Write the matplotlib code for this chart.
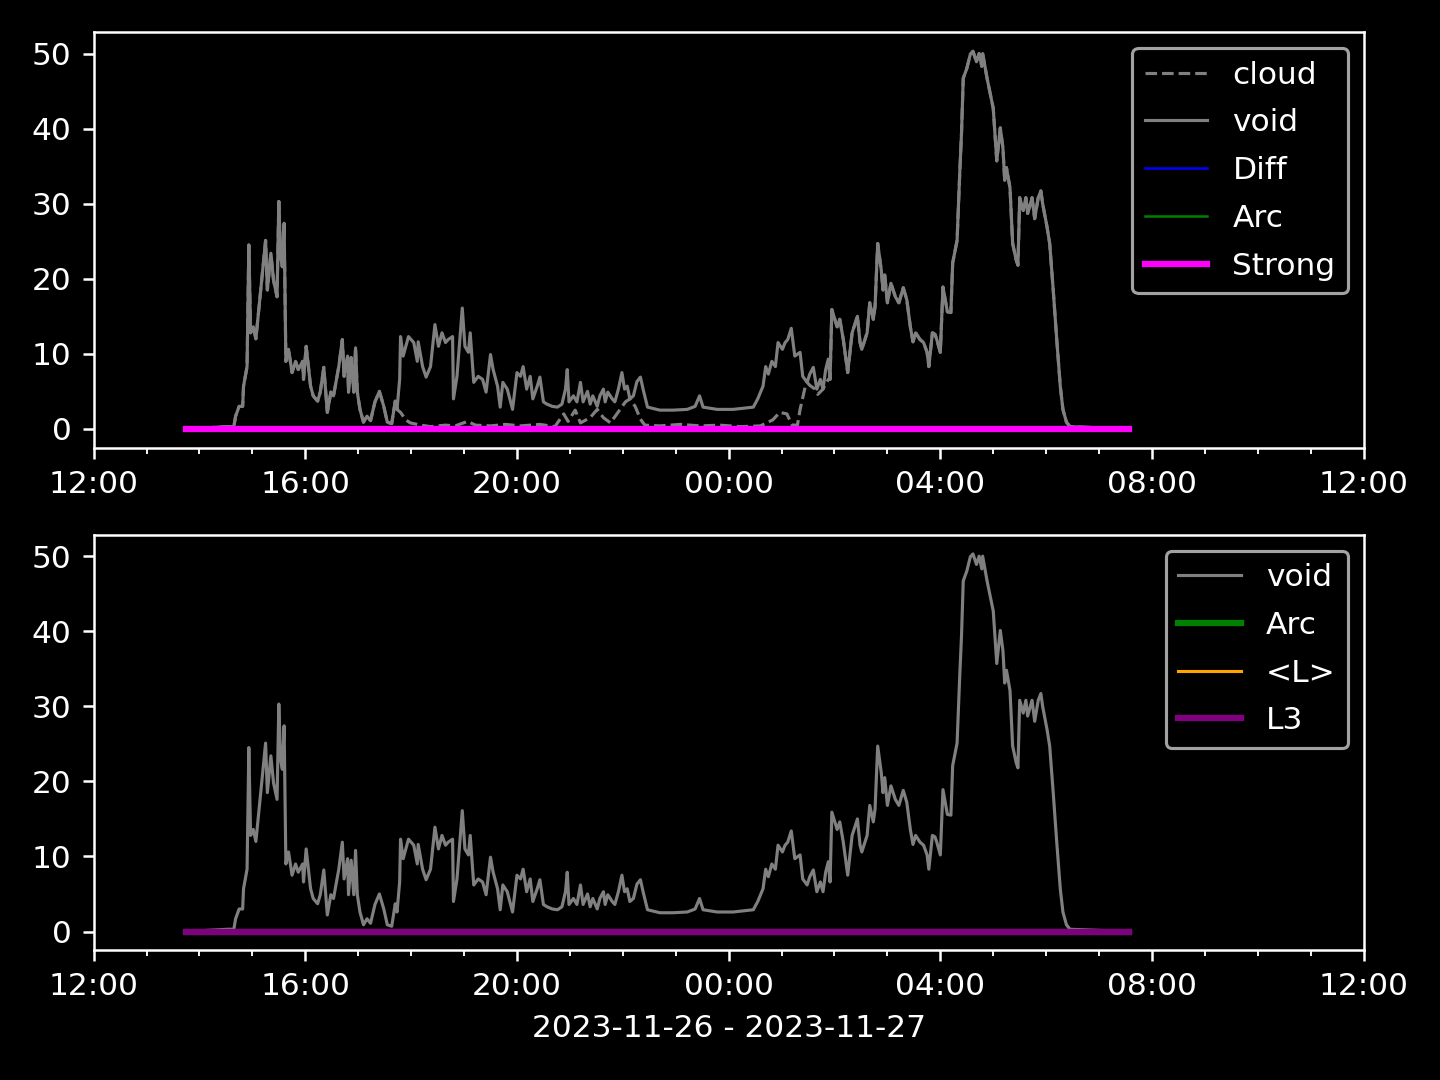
import numpy as np
import pandas as pd
import matplotlib
matplotlib.use("Agg")
import matplotlib.pyplot as plt
import matplotlib.dates as mdates

# minutes after 2023-11-26 12:00
start = pd.Timestamp("2023-11-26 12:00")
void_min = [105, 152, 159, 161, 165, 169, 170, 174, 176, 178, 181, 184, 187, 191, 195,
            197, 201, 204, 208, 210, 212, 214, 216, 218, 221, 225, 229, 232, 237, 238,
            241, 246, 249, 254, 257, 261, 265, 269, 272, 278, 282, 284, 288, 289, 292,
            295, 297, 299, 302, 306, 310, 314, 319, 324, 329, 333, 338, 342, 344, 347,
            348, 351, 357, 363, 367, 368, 373, 377, 382, 387, 391, 395, 399, 402, 407,
            408, 412, 418, 421, 425, 427, 431, 436, 441, 445, 450, 453, 458, 461, 464,
            469, 475, 480, 484, 487, 491, 495, 498, 503, 506, 510, 514, 520, 526, 531,
            535, 537, 539, 544, 548, 552, 555, 560, 563, 566, 571, 574, 578, 580, 583,
            588, 591, 595, 599, 602, 605, 608, 612, 616, 620, 623, 628, 642, 657, 673,
            682, 687, 691, 707, 725, 748, 753, 759, 762, 765, 769, 773, 776, 781, 784,
            787, 791, 795, 801, 804, 809, 812, 816, 820, 824, 827, 830, 833, 835, 837,
            843, 846, 850, 855, 860, 866, 869, 871, 877, 880, 884, 886, 889, 893, 895,
            897, 900, 904, 909, 913, 918, 922, 926, 929, 932, 937, 941, 945, 947, 951,
            954, 956, 960, 963, 968, 972, 974, 979, 982, 984, 986, 990, 994, 997, 1001,
            1004, 1007, 1008, 1013, 1016, 1020, 1024, 1028, 1031, 1033, 1035, 1039, 1042, 1046, 1048,
            1050, 1054, 1057, 1059, 1064, 1067, 1071, 1074, 1076, 1081, 1084, 1088, 1092, 1096, 1099,
            1103, 1107, 1174]
void_val = [0, 0.3, 0.3, 1.7, 3, 3, 5.7, 8.3, 24.5, 12.8, 13.6, 12, 15.5, 20.3, 25.1,
            18.5, 23.4, 19.8, 17.6, 30.3, 22.9, 21.6, 27.4, 9, 10.6, 7.5, 9, 7.9, 9, 6.6,
            11, 5.7, 4.4, 3.7, 4.9, 8.2, 2.2, 4.9, 4.4, 8.3, 11.9, 7, 9.7, 4.9, 9.5,
            4.9, 10.8, 4.9, 2.6, 0.9, 1.7, 1.1, 3.6, 5, 3, 0.9, 0.7, 3.7, 2.6, 6.6,
            12.3, 9.7, 12.3, 11.5, 9, 11.6, 8.3, 6.9, 8.3, 13.9, 11, 12.8, 11.5, 11.9, 12.3,
            4, 7, 16.1, 11, 10.2, 12.8, 6.2, 7, 6.6, 4.9, 9.9, 7.9, 5.7, 2.9, 6.2,
            5.3, 2.6, 7.5, 7, 8.3, 5.3, 7, 4, 5.7, 6.9, 3.6, 3.3, 3, 2.9, 3.3,
            5.3, 7.9, 3.6, 4.4, 3.6, 6.2, 3.6, 5, 3.3, 4.4, 3, 4.4, 5.3, 3.6, 4.9,
            4, 3.6, 5.3, 7.5, 5.3, 5.7, 4, 4.4, 6.3, 6.9, 5.3, 2.9, 2.5, 2.5, 2.6,
            3, 4.4, 2.9, 2.6, 2.6, 2.9, 4, 5.7, 8.3, 7.3, 9, 8.3, 11.5, 10.6, 11.5,
            11.9, 13.4, 9.7, 10.2, 7, 6.2, 7.3, 8.2, 5.3, 6.6, 5.3, 7.9, 9.3, 6.6, 15.9,
            13.6, 14.6, 11.9, 7.5, 12.8, 15, 11.5, 10.6, 12.8, 16.8, 14.6, 16.3, 24.7, 21.2, 18.5,
            20.5, 16.8, 19.4, 17.6, 16.8, 18.8, 17.2, 13.6, 11.6, 12.8, 11.9, 11.5, 10.2, 8.3, 12.8,
            12.6, 11.9, 10.2, 18.9, 15.6, 15.5, 22.1, 25.1, 34, 39.3, 46.7, 48, 49.9, 50.3, 48.9,
            50, 48.3, 50, 46.7, 45, 42.7, 35.7, 40.1, 37.4, 33.1, 34.8, 32.1, 24.7, 22.5, 21.8,
            30.8, 29.1, 30.8, 28.7, 30.8, 28, 30.8, 31.7, 30, 26.9, 24.7, 18.5, 11.9, 5.7, 2.6,
            0.9, 0.3, 0]

# cloud follows void except between ~17:44 and ~01:54
cloud_gap_min = [344, 348, 354, 359, 371, 382, 399, 410, 424, 433, 450, 467, 484, 506, 523,
                 533, 538, 546, 552, 563, 571, 578, 586, 597, 603, 608, 614, 620, 625, 642,
                 665, 688, 710, 733, 756, 770, 778, 786, 792, 798, 801, 807, 809, 812, 818,
                 821, 827, 833]
cloud_gap_val = [2.6, 2.2, 1.2, 0.8, 0.5, 0.3, 0.5, 0.4, 1.0, 0.5, 0.4, 0.6, 0.4, 0.6, 0.3,
                 2.0, 1.0, 2.5, 0.8, 1.5, 2.6, 1.5, 0.8, 2.6, 3.6, 4.0, 3.0, 1.3, 0.5, 0.4,
                 0.6, 0.4, 0.5, 0.3, 0.4, 1.2, 2.2, 2.0, 0.5, 0.5, 2.6, 5.7, 6.2, 5.8, 5.3,
                 4.6, 5.3, 6.6]

vm = np.array(void_min)
vv = np.array(void_val, dtype=float)
before = vm <= 342
after = vm >= 835
cloud_min = np.concatenate([vm[before], cloud_gap_min, vm[after]])
cloud_val = np.concatenate([vv[before], cloud_gap_val, vv[after]])

zero_val = np.zeros(len(void_min))  # Diff, Arc, Strong, <L>, L3 all read as 0

t_void = start + pd.to_timedelta(vm, unit="min")
t_cloud = start + pd.to_timedelta(cloud_min, unit="min")

plt.style.use("dark_background")
fig, (ax1, ax2) = plt.subplots(2, 1, figsize=(6.4, 4.8), dpi=225)
fig.subplots_adjust(left=0.065, right=0.947, top=0.970, bottom=0.120, hspace=0.21)

ax1.plot(t_cloud, cloud_val, color="gray", ls="--", lw=1, label="cloud")
ax1.plot(t_void, vv, color="gray", lw=1, label="void")
ax1.plot(t_void, zero_val, color="blue", lw=0.8, label="Diff")
ax1.plot(t_void, zero_val, color="green", lw=0.8, label="Arc")
ax1.plot(t_void, zero_val, color="magenta", lw=2, label="Strong")
ax1.legend(loc="upper right", labelspacing=0.6)

ax2.plot(t_void, vv, color="gray", lw=1, label="void")
ax2.plot(t_void, zero_val, color="green", lw=2, label="Arc")
ax2.plot(t_void, zero_val, color="orange", lw=1, label="<L>")
ax2.plot(t_void, zero_val, color="purple", lw=2, label="L3")
ax2.legend(loc="upper right", labelspacing=0.6)

for ax in (ax1, ax2):
    ax.set_xlim(start, start + pd.Timedelta(hours=24))
    ax.xaxis.set_major_locator(mdates.HourLocator(byhour=range(0, 24, 4)))
    ax.xaxis.set_minor_locator(mdates.HourLocator())
    ax.xaxis.set_major_formatter(mdates.DateFormatter("%H:%M"))

ax2.set_xlabel("2023-11-26 - 2023-11-27")

plt.savefig("out.png")
